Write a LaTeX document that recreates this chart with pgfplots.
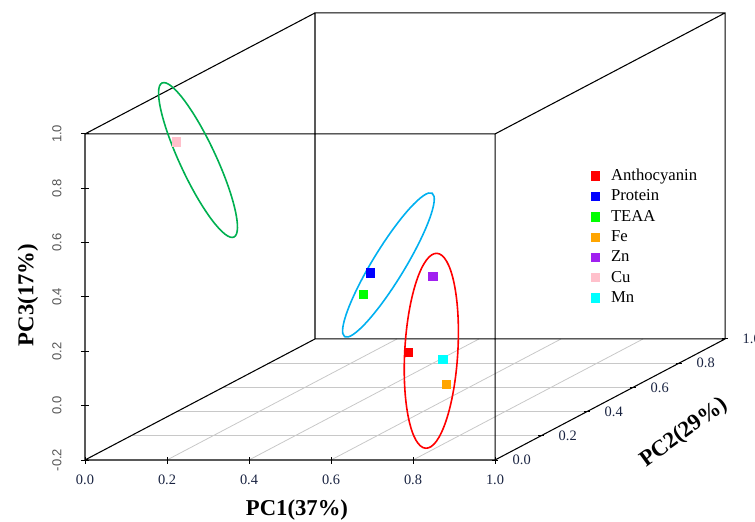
\documentclass[border=0pt]{standalone}
\usepackage{pgfplots}
\pgfplotsset{compat=1.18}
\usepackage{fontspec}
\setmainfont{Liberation Serif}
\newfontfamily\arialf{Liberation Sans}

\definecolor{tickcol}{RGB}{25,35,65}
\definecolor{zcol}{RGB}{85,85,85}
\definecolor{gridcol}{RGB}{200,200,200}
\definecolor{ellgreen}{RGB}{0,176,80}
\definecolor{ellblue}{RGB}{0,176,240}
\definecolor{cPurple}{RGB}{160,32,240}
\definecolor{cOrange}{RGB}{255,165,0}
\definecolor{cPink}{RGB}{255,192,203}
\definecolor{cGreen}{RGB}{0,255,0}
\definecolor{cBlue}{RGB}{0,0,255}
\definecolor{cRed}{RGB}{255,0,0}
\definecolor{cCyan}{RGB}{0,255,255}

\begin{document}
\begin{tikzpicture}
\begin{axis}[
    hide axis,
    clip=false,
    x={(307.5pt,0pt)}, y={(172.5pt,90.75pt)}, z={(0pt,203.75pt)},
    xmin=0, xmax=1, ymin=0, ymax=1, zmin=-0.2, zmax=1,
    legend cell align=left,
    legend style={
        at={(axis cs:1.223,0,0.892)}, anchor=north west,
        draw=none, fill=none,
        font=\fontsize{12.5}{12.5}\selectfont,
        row sep=1.5pt,
        /tikz/every odd column/.append style={column sep=7pt},
    },
    legend image code/.code={\draw[#1] plot coordinates {(0.25cm,0cm)};},
    every axis plot/.append style={only marks, mark=square*, mark size=3.1pt,
        mark options={line width=0.3pt}},
]
% floor grid (z = -0.2)
\pgfplotsinvokeforeach{0.2,0.4,0.6,0.8}{
    \draw[gridcol, line width=0.6pt] (axis cs:#1,0,-0.2) -- (axis cs:#1,1,-0.2);
    \draw[gridcol, line width=0.6pt] (axis cs:0,#1,-0.2) -- (axis cs:1,#1,-0.2);
}
% box
\draw[black, line width=0.8pt]
    (axis cs:0,0,-0.2) -- (axis cs:1,0,-0.2) -- (axis cs:1,0,1) -- (axis cs:0,0,1) -- cycle
    (axis cs:0,1,-0.2) -- (axis cs:1,1,-0.2) -- (axis cs:1,1,1) -- (axis cs:0,1,1) -- cycle
    (axis cs:0,0,-0.2) -- (axis cs:0,1,-0.2)
    (axis cs:1,0,-0.2) -- (axis cs:1,1,-0.2)
    (axis cs:0,0,1) -- (axis cs:0,1,1)
    (axis cs:1,0,1) -- (axis cs:1,1,1);
% x ticks
\pgfplotsinvokeforeach{0.0,0.2,0.4,0.6,0.8,1.0}{
    \draw[black, line width=0.7pt] ([yshift=2pt]axis cs:#1,0,-0.2) -- ([yshift=-3pt]axis cs:#1,0,-0.2);
    \node[tickcol, font=\fontsize{10.8}{12}\selectfont] at ([yshift=-15pt]axis cs:#1,0,-0.2) {#1};
}
% y ticks
\pgfplotsinvokeforeach{0.0,0.2,0.4,0.6,0.8,1.0}{
    \draw[black, line width=0.7pt] ([xshift=-2pt]axis cs:1,#1,-0.2) -- ([xshift=2pt]axis cs:1,#1,-0.2);
    \node[tickcol, font=\fontsize{10.8}{12}\selectfont] at ([xshift=20pt]axis cs:1,#1,-0.2) {#1};
}
% z ticks
\pgfplotsinvokeforeach{-0.2,0.0,0.2,0.4,0.6,0.8,1.0}{
    \draw[black, line width=0.7pt] ([xshift=-3pt]axis cs:0,0,#1) -- ([xshift=3pt]axis cs:0,0,#1);
}
\pgfplotsinvokeforeach{-0.2,0.0,0.2,0.4,0.6,0.8}{
    \node[zcol, rotate=90, font=\arialf\fontsize{9.75}{11}\selectfont] at ([xshift=-21pt]axis cs:0,0,#1) {#1};
}
\node[zcol, rotate=90, font=\arialf\fontsize{9.75}{11}\selectfont] at ([xshift=-21pt]axis cs:0,0,1) {1.0};
% axis titles
\node[font=\fontsize{17}{20}\selectfont\bfseries] at (axis cs:0.517,0,-0.384) {PC1(37\%)};
\node[rotate=90, font=\fontsize{17}{20}\selectfont\bfseries] at (axis cs:-0.139,0,0.407) {PC3(17\%)};
\node[rotate=36, font=\fontsize{17}{20}\selectfont\bfseries] at (axis cs:1.461,0,-0.10) {PC2(29\%)};

% samples
\addplot3[color=cRed] coordinates {(0.620,0.30,0.063)};
\addlegendentry{Anthocyanin}
\addplot3[color=cBlue] coordinates {(0.359,0.60,0.222)};
\addlegendentry{Protein}
\addplot3[color=cGreen] coordinates {(0.370,0.55,0.166)};
\addlegendentry{TEAA}
\addplot3[color=cOrange] coordinates {(0.712,0.30,-0.054)};
\addlegendentry{Fe}
\addplot3[color=cPurple] coordinates {(0.455,0.70,0.165)};
\addlegendentry{Zn}
\addplot3[color=cPink] coordinates {(0.194,0.05,0.949)};
\addlegendentry{Cu}
\addplot3[color=cCyan] coordinates {(0.648,0.40,-0.006)};
\addlegendentry{Mn}

% group ellipses
\draw[ellgreen, line width=1.2pt, rotate around={-65:(axis cs:0.2756,0,0.904)}]
    (axis cs:0.2756,0,0.904) ellipse [x radius=63.75pt, y radius=13.5pt];
\draw[ellblue, line width=1.2pt, rotate around={58.6:(axis cs:0.740,0,0.5177)}]
    (axis cs:0.740,0,0.5177) ellipse [x radius=63pt, y radius=12pt];
\draw[cRed, line width=1.2pt, rotate around={86.7:(axis cs:0.8446,0,0.2019)}]
    (axis cs:0.8446,0,0.2019) ellipse [x radius=73.2pt, y radius=19.9pt];

\coordinate (TL) at (axis cs:-0.2073,0,1.493);
\coordinate (BR) at (axis cs:1.634,0,-0.4282);
\end{axis}
\pgfresetboundingbox
\path[use as bounding box] (TL) rectangle (BR);
\end{tikzpicture}
\end{document}
